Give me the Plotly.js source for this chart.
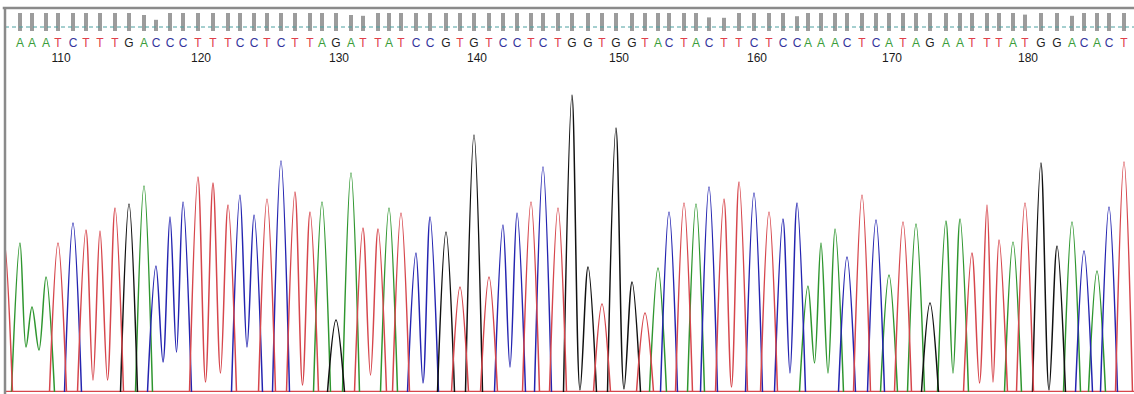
<!DOCTYPE html>
<html>
<head>
<meta charset="utf-8">
<script src="https://cdn.plot.ly/plotly-3.0.1.min.js"></script>
<style>
html,body{margin:0;padding:0;background:#fff;}
#chart{width:1134px;height:394px;}
</style>
</head>
<body>
<div id="chart"></div>
<script>
// ---- data ----
const firstBaseNumber = 107;
const bases = ['A','A','A','T','C','T','T','T','G','A','C','C','C','T','T','T','C','C','T','C',
               'T','T','A','G','A','T','T','A','T','C','C','G','T','G','T','C','C','T','C','T',
               'G','G','T','G','G','T','A','C','T','A','C','T','T','C','T','C','C','A','A','A',
               'C','T','C','A','T','A','G','A','A','T','T','T','A','T','G','G','A','C','A','C','T'];
// peak position (scan units) of each called base
const peakX = [20,32,46,58,73,86,100,115,129,144,156,170,183,198,213,228,240,254,267,281,
               295,310,322,336,351,363,378,389,401,416,430,446,460,474,489,503,517,531,543,558,
               572,588,602,616,632,645,658,669,684,696,709,724,739,754,769,783,797,808,821,835,
               847,862,876,889,903,916,930,946,960,972,987,999,1013,1025,1041,1057,1072,1084,1097,1109,1124];
// peak signal height of each called base
const peakH = [149,85,115,149,169,162,161,184,188,206,126,175,190,215,209,187,197,177,193,231,
               200,180,190,72,219,164,163,184,179,139,175,160,105,257,115,167,179,190,225,184,
               297,125,88,264,110,79,124,180,189,188,205,193,210,199,180,173,189,106,149,163,
               135,197,172,117,170,168,89,171,173,139,187,152,150,189,229,146,170,141,121,185,230];
// base-call quality bars
const quality = [45,45,45,45,45,45,45,45,45,40,28,45,45,45,45,45,45,45,45,45,
                 45,45,45,45,40,38,45,45,45,45,45,45,45,45,45,45,45,45,45,45,
                 45,45,45,45,45,45,45,45,45,45,34,33,45,45,45,45,37,45,45,45,
                 45,45,45,45,45,45,45,45,45,45,45,45,45,41,45,45,38,45,45,45,45];
// troughs between consecutive peaks of the same dye (index of the left base, height)
const troughAfter = [0,1,5,6,10,11,13,14,16,20,25,29,35,40,43,51,55,57,58,67,69,70,74];
const troughH     = [45,42,12,12,30,40,10,19,45,7,17,9,25,2,3,5,19,29,19,19,9,10,2];
// partial peak cut by the left edge (not called)
const leadBase = ['T'];
const leadX = [4];
const leadH = [152];

// ---- styles ----
const dyeColor = {A:'#2f962f', C:'#2424b0', G:'#111111', T:'#d6464c'};
const letterColor = {A:'#3a9d3a', C:'#34349c', G:'#1e1e1e', T:'#e0404a'};
const footHalfWidth = 8.5;
const xStart = 5, xEnd = 1134;

function channelTrace(ch) {
  const allB = leadBase.concat(bases);
  const allX = leadX.concat(peakX);
  const allH = leadH.concat(peakH);
  const off = leadBase.length;
  const tmap = {};
  troughAfter.forEach((i, k) => { tmap[i + off] = troughH[k]; });
  const xs = [], ys = [];
  for (let i = 0; i < allB.length; i++) {
    if (allB[i] !== ch) continue;
    const joinedPrev = i > 0 && allB[i - 1] === ch && tmap[i - 1] !== undefined;
    if (!joinedPrev) { xs.push(allX[i] - footHalfWidth); ys.push(0); }
    xs.push(allX[i]); ys.push(allH[i]);
    if (i + 1 < allB.length && allB[i + 1] === ch && tmap[i] !== undefined) {
      xs.push((allX[i] + allX[i + 1]) / 2); ys.push(tmap[i]);
    } else {
      xs.push(allX[i] + footHalfWidth); ys.push(0);
      xs.push(null); ys.push(null);
    }
  }
  return {
    type: 'scatter', mode: 'lines', x: xs, y: ys, xaxis: 'x', yaxis: 'y',
    connectgaps: false,
    line: {color: dyeColor[ch], width: 1.5, shape: 'spline', smoothing: 1},
    hoverinfo: 'skip'
  };
}

const traces = [];
// baseline
traces.push({
  type: 'scatter', mode: 'lines', x: [xStart, xEnd], y: [0, 0], xaxis: 'x', yaxis: 'y',
  line: {color: '#d6464c', width: 2.5}, hoverinfo: 'skip'
});
['A', 'C', 'G', 'T'].forEach(ch => traces.push(channelTrace(ch)));

traces.push({
  type: 'bar', x: peakX, y: quality, width: 4, xaxis: 'x', yaxis: 'y3',
  marker: {color: '#9c9c9c', line: {width: 0}}, hoverinfo: 'skip'
});

traces.push({
  type: 'scatter', mode: 'text', x: peakX, y: bases.map(() => 20), text: bases,
  xaxis: 'x', yaxis: 'y2', cliponaxis: true,
  textfont: {family: 'Liberation Sans, Arial, sans-serif', size: 12, color: bases.map(b => letterColor[b])},
  hoverinfo: 'skip'
});

const tickIdx = bases.map((b, i) => i).filter(i => (firstBaseNumber + i) % 10 === 0);
traces.push({
  type: 'scatter', mode: 'text', x: tickIdx.map(i => peakX[i] + 3), y: tickIdx.map(() => 5.5),
  text: tickIdx.map(i => String(firstBaseNumber + i)),
  xaxis: 'x', yaxis: 'y2',
  textfont: {family: 'Liberation Sans, Arial, sans-serif', size: 12, color: '#1a1a1a'},
  hoverinfo: 'skip'
});

const H = 392;
const layout = {
  width: 1134, height: 394,
  margin: {l: 5, r: 0, t: 0, b: 2, pad: 0},
  paper_bgcolor: '#ffffff', plot_bgcolor: '#ffffff',
  showlegend: false, hovermode: false,
  xaxis: {range: [xStart, xEnd], visible: false, fixedrange: true},
  yaxis: {domain: [0, 328 / H], range: [0, 328], visible: false, fixedrange: true},
  yaxis2: {domain: [328 / H, 1], range: [0, 64], visible: false, fixedrange: true},
  yaxis3: {domain: [(H - 31) / H, (H - 13) / H], range: [0, 45], visible: false, fixedrange: true},
  shapes: [
    {type: 'line', xref: 'paper', yref: 'y2', x0: 0, x1: 1, y0: 37, y1: 37,
     line: {color: '#4aa0a0', width: 1, dash: '4px,3px'}, layer: 'above'},
    {type: 'line', xref: 'paper', yref: 'paper', x0: -0.002, x1: 1.01, y0: 1 - 8 / H, y1: 1 - 8 / H,
     line: {color: '#8a8a8a', width: 2.5}, layer: 'above'},
    {type: 'line', xref: 'paper', yref: 'paper', x0: 0, x1: 0, y0: 1 - 8 / H, y1: -0.02,
     line: {color: '#8a8a8a', width: 2.5}, layer: 'above'}
  ]
};

Plotly.newPlot('chart', traces, layout, {staticPlot: true, displayModeBar: false});
</script>
</body>
</html>
